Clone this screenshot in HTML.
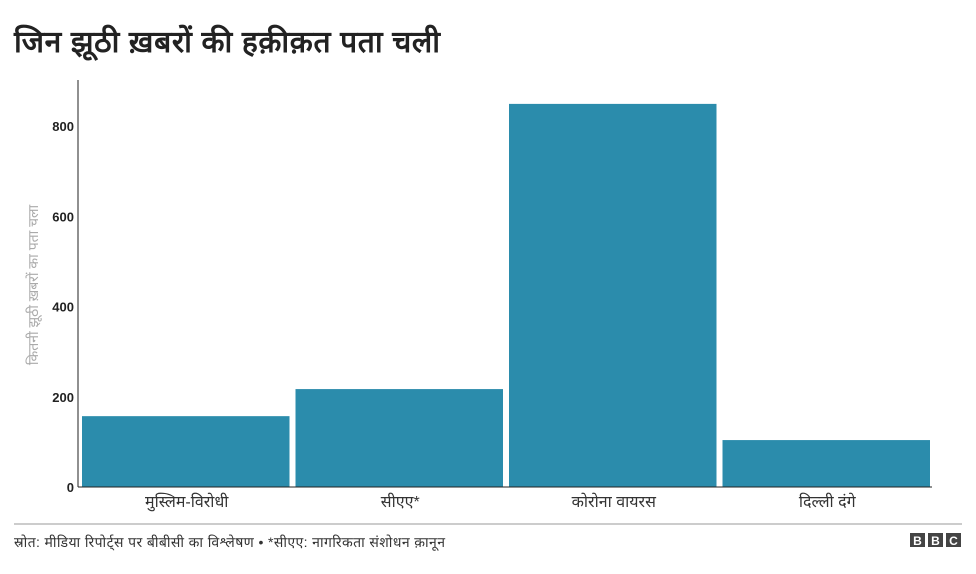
<!DOCTYPE html>
<html><head><meta charset="utf-8"><style>
body{margin:0;background:#fff;font-family:"Liberation Sans",sans-serif}
svg text{font-family:"Liberation Sans",sans-serif}
</style></head><body>
<svg id="c" width="976" height="569">
<text x="14" y="52" font-size="30" font-weight="bold" fill="#222" textLength="426">जिन झूठी ख़बरों की हक़ीक़त पता चली</text>
<text transform="translate(38,285) rotate(-90)" text-anchor="middle" font-size="14" fill="#aaa">कितनी झूठी ख़बरों का पता चला</text>
<g id="plot"></g>
<line x1="14" y1="524" x2="962" y2="524" stroke="#999" stroke-width="1"/>
<text x="14" y="547" font-size="14" fill="#333" textLength="431">स्रोत: मीडिया रिपोर्ट्स पर बीबीसी का विश्लेषण • *सीएए: नागरिकता संशोधन क़ानून</text>
<g>
<rect x="910" y="533" width="15" height="14" fill="#444"/><rect x="928" y="533" width="15" height="14" fill="#444"/><rect x="946" y="533" width="15" height="14" fill="#444"/>
<text x="917.5" y="545" text-anchor="middle" font-size="12" font-weight="bold" fill="#fff">B</text>
<text x="935.5" y="545" text-anchor="middle" font-size="12" font-weight="bold" fill="#fff">B</text>
<text x="953.5" y="545" text-anchor="middle" font-size="12" font-weight="bold" fill="#fff">C</text>
</g>
</svg>
<script>
const categories=["मुस्लिम-विरोधी","सीएए*","कोरोना वायरस","दिल्ली दंगे"];
const values=[157,217,849,104];
const yTicks=[0,200,400,600,800];
const NS="http://www.w3.org/2000/svg";
const g=document.getElementById('plot');
const x0=78,x1=932,y0=487,yTop=126;
const y=v=>y0-(y0-yTop)*v/800;
const bw=(x1-x0)/categories.length;
function mk(t,a){const e=document.createElementNS(NS,t);for(const k in a)e.setAttribute(k,a[k]);g.appendChild(e);return e;}
yTicks.forEach(t=>{
 const e=mk('text',{x:74,y:y(t)+5,'text-anchor':'end','font-size':13,'font-weight':'bold',fill:'#222'});
 e.textContent=t;
 
 
});
values.forEach((v,i)=>{
 const r=mk('rect',{x:x0+i*bw+4,y:y(v),width:bw-6,height:y0-y(v),fill:'#2b8cac'});
 
 
 const t=mk('text',{x:x0+i*bw+bw/2+2,y:y0+20,'text-anchor':'middle','font-size':16,fill:'#333'});
 t.textContent=categories[i];
 
 
});
const ya=mk('line',{x1:x0,y1:80,x2:x0,y2:y0,stroke:'#222'});


const xa=mk('line',{x1:x0,y1:y0,x2:x1,y2:y0,stroke:'#222'});


</script>
</body></html>
